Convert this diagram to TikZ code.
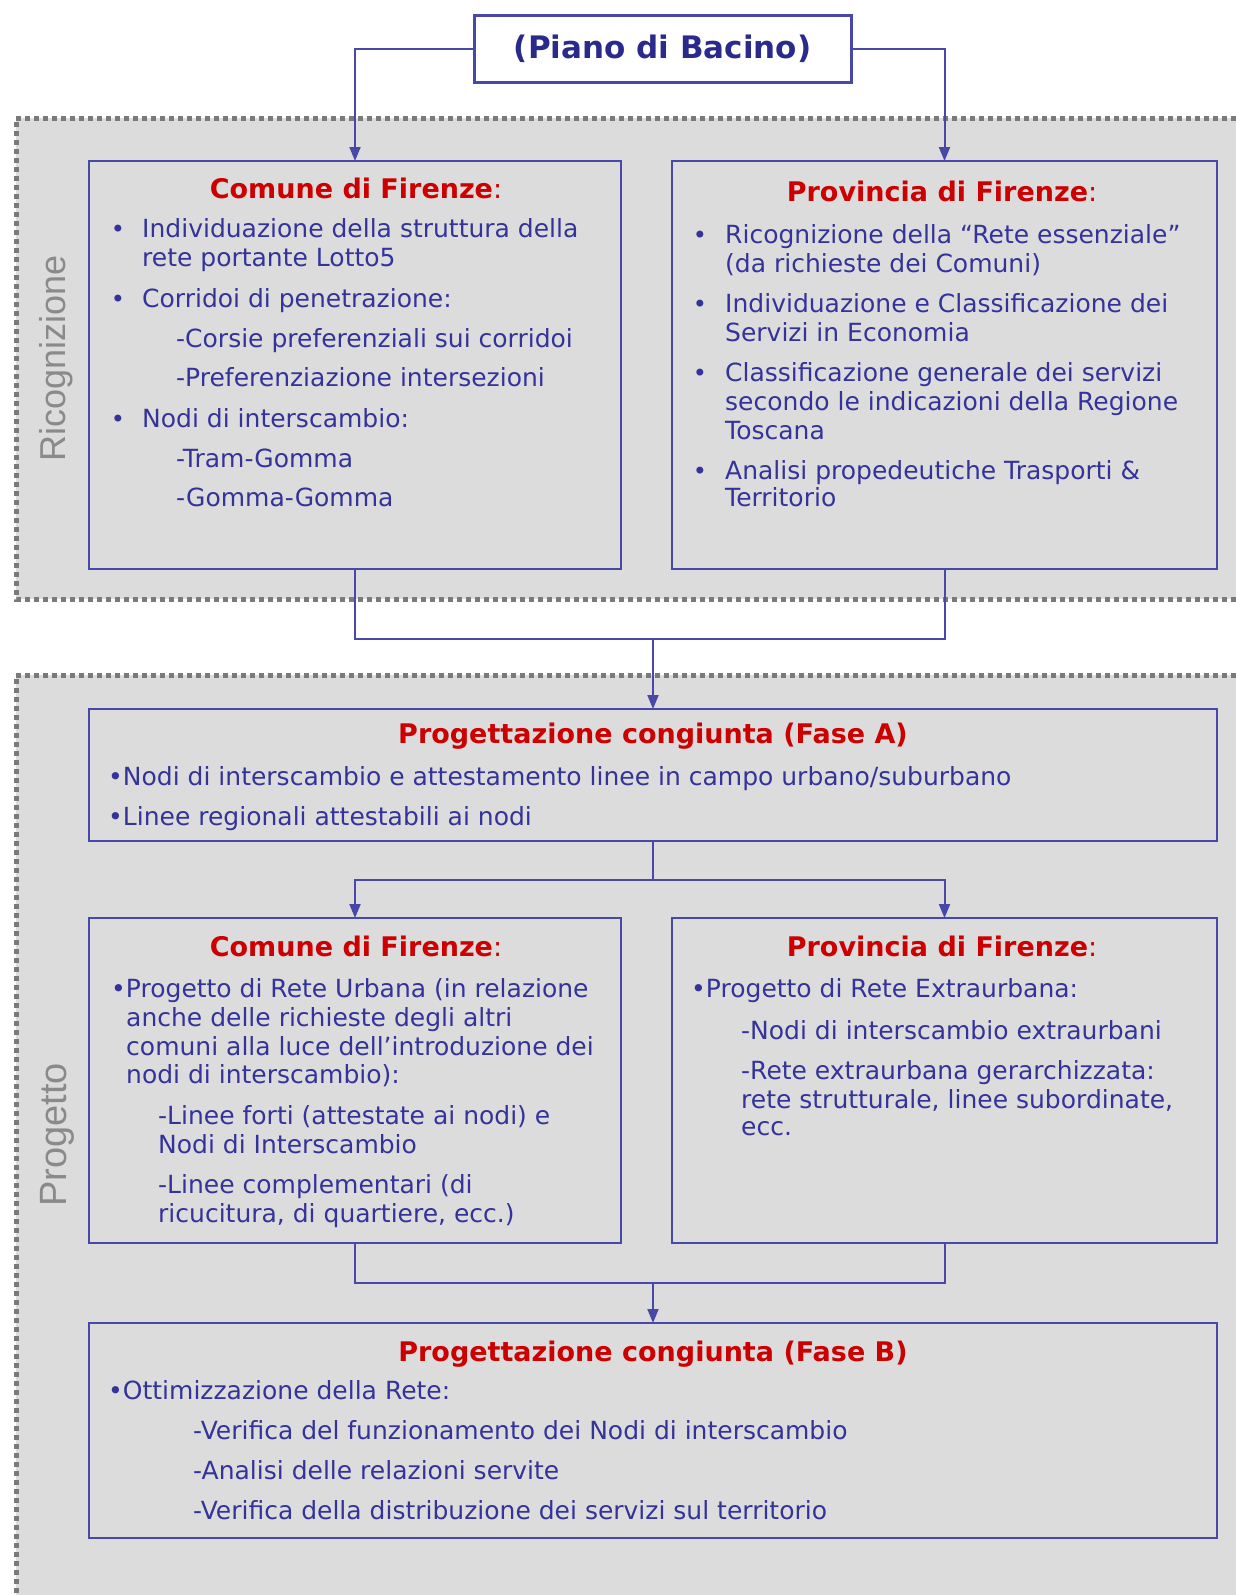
\documentclass[tikz,border=0pt]{standalone}
\usepackage{fontspec}
\setmainfont{DejaVu Sans}
\newfontfamily\labfont{Liberation Sans}
\usetikzlibrary{arrows.meta}
\definecolor{bx}{HTML}{4848A8}
\definecolor{txt}{HTML}{33339A}
\definecolor{ttl}{HTML}{2A2A8C}
\definecolor{hdc}{HTML}{CC0000}
\definecolor{reg}{HTML}{DCDCDC}
\definecolor{dots}{HTML}{7A7A7A}
\definecolor{lab}{HTML}{8A8A8A}
\begin{document}
\begin{tikzpicture}[x=1pt,y=-1pt,
 box/.style={draw=bx, line width=2pt, rectangle, inner sep=0pt, outer sep=0pt},
 conn/.style={draw=bx, line width=2pt},
 arr/.style={conn, -{Triangle[width=11pt,length=14pt]}},
 ln/.style={anchor=base west, inner sep=0pt, text=txt, font=\fontsize{25}{29}\selectfont},
 bul/.style={anchor=base, inner sep=0pt, text=txt, font=\fontsize{24}{28}\selectfont},
 hdg/.style={anchor=base, inner sep=0pt, text=hdc, font=\fontsize{27}{32}\selectfont\bfseries},
 dotborder/.style={draw=dots, line width=5pt, dash pattern=on 5pt off 4pt},
 vlab/.style={rotate=90, anchor=base, text=lab, inner sep=0pt}]
\useasboundingbox (0,0) rectangle (1236,1595);
\clip (0,0) rectangle (1236,1595);
\fill[white] (0,0) rectangle (1236,1595);

% regions
\fill[reg] (16,118) rectangle (1245,599);
\draw[dotborder] (1245,118) -- (16,118) -- (16,599) -- (1245,599);
\fill[reg] (16,675) rectangle (1245,1610);
\draw[dotborder] (1245,675) -- (16,675) -- (16,1610);

\node[vlab, font=\labfont\fontsize{36}{40}\selectfont] (lric) at (65,358) {Ricognizione};
\node[vlab, font=\labfont\fontsize{38}{42}\selectfont] (lprog) at (66,1135) {Progetto};

% boxes
\node[box, line width=3pt, minimum width=377pt, minimum height=66pt, text=ttl,
      font=\fontsize{31}{36}\selectfont\bfseries] (piano) at (662.5,49) {(Piano di Bacino)};
\node[box, minimum width=532pt, minimum height=408pt] (c1) at (355,365) {};
\node[box, minimum width=545pt, minimum height=408pt] (p1) at (944.5,365) {};
\node[box, minimum width=1128pt, minimum height=132pt] (fa) at (653,775) {};
\node[box, minimum width=532pt, minimum height=325pt] (c2) at (355,1080.5) {};
\node[box, minimum width=545pt, minimum height=325pt] (p2) at (944.5,1080.5) {};
\node[box, minimum width=1128pt, minimum height=215pt] (fb) at (653,1430.5) {};

% connectors
\draw[arr] (piano.west) -| (c1.north);
\draw[arr] (piano.east) -| (p1.north);
\coordinate (j1) at (653,639);
\draw[conn] (c1.south) |- (j1) -| (p1.south);
\draw[arr] (j1) -- (fa.north);
\coordinate (j2) at (653,880);
\draw[conn] (fa.south) -- (j2);
\draw[arr] (j2) -| (c2.north);
\draw[arr] (j2) -| (p2.north);
\coordinate (j3) at (653,1283);
\draw[conn] (c2.south) |- (j3) -| (p2.south);
\draw[arr] (j3) -- (fb.north);

% Comune 1
\node[hdg] (c1h) at (356,198) {Comune di Firenze\textmd{:}};
\node[bul] (c1b1) at (118,237) {•};
\node[ln] (c1t1) at (142,237) {Individuazione della struttura della};
\node[ln] (c1t2) at (142,266) {rete portante Lotto5};
\node[bul] (c1b2) at (118,307) {•};
\node[ln] (c1t3) at (142,307) {Corridoi di penetrazione:};
\node[ln] (c1t4) at (176,347) {-Corsie preferenziali sui corridoi};
\node[ln] (c1t5) at (176,386) {-Preferenziazione intersezioni};
\node[bul] (c1b3) at (118,427) {•};
\node[ln] (c1t6) at (142,427) {Nodi di interscambio:};
\node[ln] (c1t7) at (176,467) {-Tram-Gomma};
\node[ln] (c1t8) at (176,506) {-Gomma-Gomma};

% Provincia 1
\node[hdg] (p1h) at (942,201) {Provincia di Firenze\textmd{:}};
\node[bul] (p1b1) at (700,243) {•};
\node[ln] (p1t1) at (725,243) {Ricognizione della “Rete essenziale”};
\node[ln] (p1t2) at (725,272) {(da richieste dei Comuni)};
\node[bul] (p1b2) at (700,312) {•};
\node[ln] (p1t3) at (725,312) {Individuazione e Classificazione dei};
\node[ln] (p1t4) at (725,341) {Servizi in Economia};
\node[bul] (p1b3) at (700,381) {•};
\node[ln] (p1t5) at (725,381) {Classificazione generale dei servizi};
\node[ln] (p1t6) at (725,410) {secondo le indicazioni della Regione};
\node[ln] (p1t7) at (725,439) {Toscana};
\node[bul] (p1b4) at (700,479) {•};
\node[ln] (p1t8) at (725,479) {Analisi propedeutiche Trasporti \&};
\node[ln] (p1t9) at (725,506) {Territorio};

% Fase A
\node[hdg] (fah) at (653,743) {Progettazione congiunta (Fase A)};
\node[ln] (fat1) at (108,785) {•Nodi di interscambio e attestamento linee in campo urbano/suburbano};
\node[ln] (fat2) at (108,825) {•Linee regionali attestabili ai nodi};

% Comune 2
\node[hdg] (c2h) at (356,956) {Comune di Firenze\textmd{:}};
\node[ln] (c2t1) at (111,997) {•Progetto di Rete Urbana (in relazione};
\node[ln] (c2t2) at (126,1026) {anche delle richieste degli altri};
\node[ln] (c2t3) at (126,1055) {comuni alla luce dell’introduzione dei};
\node[ln] (c2t4) at (126,1083) {nodi di interscambio):};
\node[ln] (c2t5) at (158,1124) {-Linee forti (attestate ai nodi) e};
\node[ln] (c2t6) at (158,1153) {Nodi di Interscambio};
\node[ln] (c2t7) at (158,1193) {-Linee complementari (di};
\node[ln] (c2t8) at (158,1222) {ricucitura, di quartiere, ecc.)};

% Provincia 2
\node[hdg] (p2h) at (942,956) {Provincia di Firenze\textmd{:}};
\node[ln] (p2t1) at (691,997) {•Progetto di Rete Extraurbana:};
\node[ln] (p2t2) at (741,1039) {-Nodi di interscambio extraurbani};
\node[ln] (p2t3) at (741,1079) {-Rete extraurbana gerarchizzata:};
\node[ln] (p2t4) at (741,1108) {rete strutturale, linee subordinate,};
\node[ln] (p2t5) at (741,1135) {ecc.};

% Fase B
\node[hdg] (fbh) at (653,1361) {Progettazione congiunta (Fase B)};
\node[ln] (fbt1) at (108,1399) {•Ottimizzazione della Rete:};
\node[ln] (fbt2) at (193,1439) {-Verifica del funzionamento dei Nodi di interscambio};
\node[ln] (fbt3) at (193,1479) {-Analisi delle relazioni servite};
\node[ln] (fbt4) at (193,1519) {-Verifica della distribuzione dei servizi sul territorio};
\end{tikzpicture}
\end{document}
